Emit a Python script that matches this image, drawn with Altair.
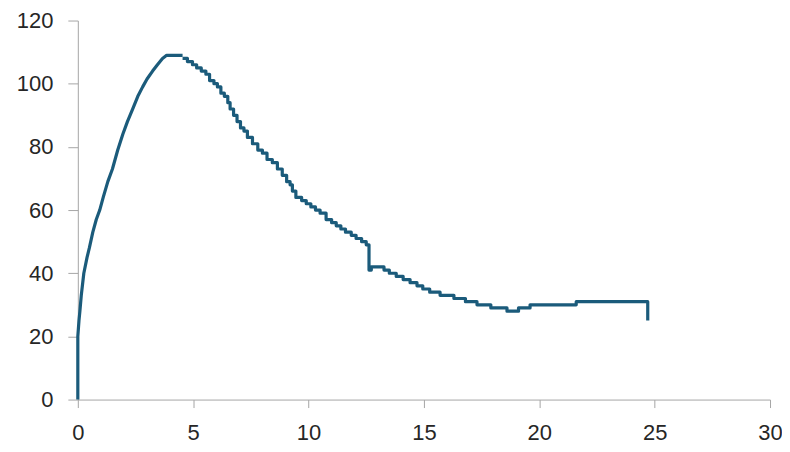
import altair as alt
import pandas as pd

# rising part (smooth)
rise_x = [0, 0.0, 0.05, 0.09, 0.15, 0.26, 0.4, 0.5, 0.65, 0.8, 0.95, 1.1, 1.3, 1.5,
          1.73, 1.95, 2.15, 2.38, 2.6, 2.81, 3.0, 3.24, 3.45, 3.67, 3.85, 4.54]
rise_y = [0, 20, 25, 28, 33, 40, 45, 48, 53, 57, 60, 64, 69, 73,
          79, 84, 88, 92, 96, 99, 101.5, 104, 106, 108, 109, 109]

# falling part (stepped)
fall_x = [4.54, 4.75, 4.97, 5.15, 5.35, 5.55, 5.71, 5.9, 6.05, 6.2,
          6.35, 6.5, 6.6, 6.75, 6.9, 7.05, 7.2, 7.35, 7.57, 7.8,
          8.0, 8.2, 8.43, 8.65, 8.86, 9.05, 9.2, 9.3, 9.45, 9.7,
          9.9, 10.1, 10.3, 10.5, 10.76, 11.0, 11.2, 11.4, 11.6, 11.85,
          12.06, 12.3, 12.5, 12.62, 12.72, 13.27, 13.5, 13.8, 14.1, 14.4,
          14.7, 14.95, 15.25, 15.7, 16.3, 16.8, 17.3, 17.9, 18.6, 19.1,
          19.6, 21.6, 24.7]
fall_y = [108, 107, 106, 105, 104, 103, 101, 100, 99, 97,
          96, 94, 92, 90, 88, 86, 85, 83, 81, 79,
          78, 76, 75, 73, 71, 69, 68, 66, 64, 63,
          62, 61, 60, 59, 57, 56, 55, 54, 53, 52,
          51, 50, 49, 41, 42, 41, 40, 39, 38, 37,
          36, 35, 34, 33, 32, 31, 30, 29, 28, 29,
          30, 31, 25]

x_ticks = [0, 5, 10, 15, 20, 25, 30]
y_ticks = [0, 20, 40, 60, 80, 100, 120]

rise = pd.DataFrame({"x": rise_x, "y": rise_y, "order": list(range(len(rise_x)))})
fall = pd.DataFrame({"x": fall_x, "y": fall_y, "order": list(range(len(fall_x)))})

axis_common = dict(
    grid=False,
    domainColor="#a6a6a6",
    tickColor="#a6a6a6",
    labelColor="#262626",
    labelFontSize=22,
    labelFont="Liberation Sans",
    labelFlush=False,
    title=None,
)

xenc = alt.X("x:Q", scale=alt.Scale(domain=[0, 30], nice=False),
             axis=alt.Axis(values=x_ticks, tickSize=8, labelPadding=15, **axis_common))
yenc = alt.Y("y:Q", scale=alt.Scale(domain=[0, 120], nice=False),
             axis=alt.Axis(values=y_ticks, tickSize=10, labelPadding=15, **axis_common))

line_style = dict(color="#1b5b7b", strokeWidth=3.2, strokeJoin="round")

rise_line = alt.Chart(rise).mark_line(interpolate="linear", **line_style).encode(
    x=xenc, y=yenc, order="order:Q")
fall_line = alt.Chart(fall).mark_line(interpolate="step-after", **line_style).encode(
    x=xenc, y=yenc, order="order:Q")

chart = alt.layer(rise_line, fall_line).properties(
    width=694, height=380,
    autosize=alt.AutoSizeParams(type="none"),
    padding={"left": 70, "top": 12, "right": 12, "bottom": 56},
).configure_view(stroke=None)

chart.save("out.html", embed_options={"renderer": "svg", "actions": False})
